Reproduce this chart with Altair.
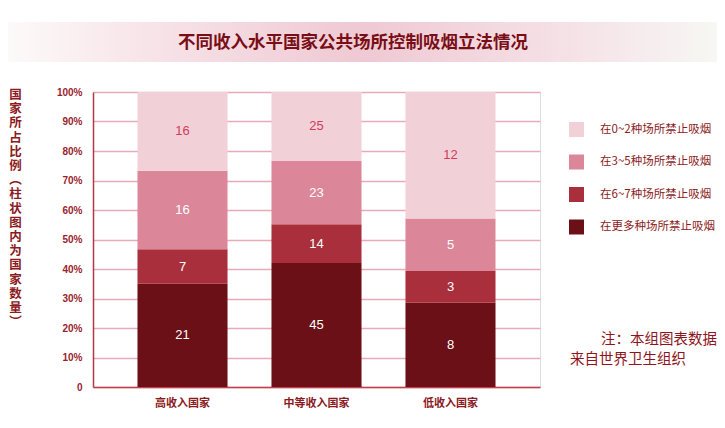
import altair as alt
import pandas as pd

categories = ["高收入国家", "中等收入国家", "低收入国家"]
levels = ["在0~2种场所禁止吸烟", "在3~5种场所禁止吸烟", "在6~7种场所禁止吸烟", "在更多种场所禁止吸烟"]
more_places = [21, 45, 8]
six_seven = [7, 14, 3]
three_five = [16, 23, 5]
zero_two = [16, 25, 12]
y_ticks = [0, 0.1, 0.2, 0.3, 0.4, 0.5, 0.6, 0.7, 0.8, 0.9, 1.0]
y_title_chars = list("国家所占比例︵柱状图内为国家数量︶")
title_text = "不同收入水平国家公共场所控制吸烟立法情况"
note_line1 = "注：本组图表数据"
note_line2 = "来自世界卫生组织"
colors = ["#F2D0D8", "#DC8799", "#A82F3B", "#6B1016"]

DARK = "#8B1A22"
CJK = "Noto Sans CJK SC"

rows = []
series = [(levels[3], more_places), (levels[2], six_seven), (levels[1], three_five), (levels[0], zero_two)]
for i, c in enumerate(categories):
    for order, (lvl, vals) in enumerate(series):
        rows.append({"cat": c, "level": lvl, "n": vals[i], "ord": order})
df = pd.DataFrame(rows)

base = alt.Chart(df).transform_stack(
    stack="n", groupby=["cat"], as_=["y0", "y1"], offset="normalize",
    sort=[alt.SortField("ord", order="ascending")]
).transform_calculate(mid="(datum.y0 + datum.y1) / 2")

y_scale = alt.Scale(domain=[0, 1], nice=False)
x_scale = alt.Scale(paddingInner=0.328, paddingOuter=0.332)

x_axis = alt.Axis(title=None, labelAngle=0, ticks=False, labelPadding=10,
                  labelFont=CJK, labelFontSize=11, labelFontWeight="bold",
                  labelColor=DARK, domainColor="#C0404C", domainWidth=1.5)
y_axis = alt.Axis(title=None, values=y_ticks, ticks=False, labelPadding=11,
                  labelOverlap=False, labelBound=False,
                  labelFont="Liberation Sans", labelFontSize=10, labelFontWeight="bold",
                  labelColor="#9A1E2E",
                  labelExpr="datum.value == 0 ? '0' : format(datum.value, '.0%')",
                  domainColor="#B03848", domainWidth=1.5,
                  grid=True, gridColor="#E9A9B6", gridWidth=1.3)

bars = base.mark_bar().encode(
    x=alt.X("cat:N", sort=categories, scale=x_scale, axis=x_axis),
    y=alt.Y("y0:Q", scale=y_scale, axis=y_axis),
    y2="y1:Q",
    color=alt.Color("level:N", scale=alt.Scale(domain=levels, range=colors),
                    legend=alt.Legend(title=None, orient="none", legendX=476, legendY=30,
                                      symbolType="square", symbolSize=225,
                                      symbolStrokeWidth=0, symbolOpacity=1,
                                      labelOffset=16, rowPadding=17.5, padding=0,
                                      labelFont=CJK, labelFontSize=11.5,
                                      labelColor=DARK)),
)

labels = base.mark_text(fontSize=13, font="Liberation Sans", baseline="middle").encode(
    x=alt.X("cat:N", sort=categories, scale=x_scale, axis=x_axis),
    y=alt.Y("mid:Q", scale=y_scale, axis=y_axis),
    text="n:Q",
    color=alt.condition(alt.datum.level == levels[0], alt.value("#D13C58"), alt.value("white")),
)

dummy = alt.Chart(pd.DataFrame({"k": [0]}))

gradient = alt.LinearGradient(
    gradient="linear", x1=0, x2=1, y1=0, y2=0,
    stops=[alt.GradientStop(color="#FDFBFB", offset=0),
           alt.GradientStop(color="#F7E4E9", offset=0.2),
           alt.GradientStop(color="#EFC9D3", offset=0.5),
           alt.GradientStop(color="#F5E3E8", offset=0.8),
           alt.GradientStop(color="#F7F8F4", offset=1)],
)

banner = dummy.mark_rect(fill=gradient).encode(
    x=alt.value(-93), x2=alt.value(632), y=alt.value(-70), y2=alt.value(-30))

title = dummy.mark_text(text=title_text, font=CJK, fontSize=17.5, fontWeight="bold",
                        color="#7A0E16", align="center", baseline="middle").encode(
    x=alt.value(260), y=alt.value(-49))

ytitle = dummy.mark_text(text=y_title_chars, font=CJK, fontSize=12.5, fontWeight="bold",
                         color=DARK, align="center", baseline="top", lineHeight=14.2).encode(
    x=alt.value(-77.5), y=alt.value(-3))

note1 = dummy.mark_text(text=note_line1, font=CJK, fontSize=14.5, color="#8E1420",
                        align="right", baseline="middle").encode(
    x=alt.value(624), y=alt.value(248))
note2 = dummy.mark_text(text=note_line2, font=CJK, fontSize=14.5, color="#8E1420",
                        align="left", baseline="middle").encode(
    x=alt.value(477), y=alt.value(268))

chart = alt.layer(banner, title, ytitle, bars, labels, note1, note2).properties(
    width=447, height=295,
    autosize=alt.AutoSizeParams(type="none"),
    padding={"left": 85, "top": 84, "right": 177, "bottom": 33},
).configure_view(stroke="transparent", strokeWidth=0).configure(background="white")

chart.save("out.html", embed_options={"renderer": "svg", "actions": False})
